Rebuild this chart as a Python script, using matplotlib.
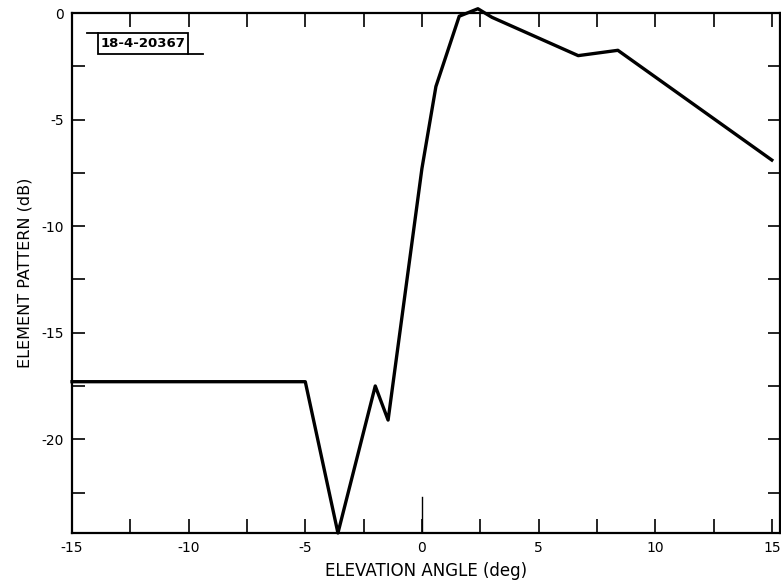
import matplotlib.pyplot as plt
from matplotlib.patches import Rectangle
import numpy as np

# elevation angle (deg) and element pattern (dB)
angle = [-15, -5.0, -3.6, -2.0, -1.45, 0.0, 0.6, 1.6, 2.4, 3.0, 6.7, 8.4, 15.0]
pattern = [-17.3, -17.3, -24.4, -17.5, -19.1, -7.3, -3.45, -0.15, 0.2, -0.2, -2.0, -1.75, -6.9]

xticks = [-15, -10, -5, 0, 5, 10, 15]
yticks = [0, -5, -10, -15, -20]

fig = plt.figure(figsize=(7.81, 5.81), dpi=100)
ax = fig.add_axes([0.0922, 0.0826, 0.9065, 0.895])

ax.plot(angle, pattern, color='black', linewidth=2.4, clip_on=False)

ax.set_xlim(-15, 15.35)
ax.set_ylim(-24.4, 0)
ax.set_xticks(xticks)
ax.set_xticklabels([str(t) for t in xticks])
ax.set_yticks(yticks)
ax.set_yticklabels([str(t) for t in yticks])
ax.set_xticks(np.arange(-12.5, 15, 5), minor=True)
ax.set_yticks(np.arange(-2.5, -24, -5), minor=True)
ax.tick_params(which='both', direction='in', width=1.2,
               top=True, right=True, labelsize=10, pad=6)
ax.tick_params(axis='x', which='both', length=10)
ax.tick_params(axis='y', which='both', length=9)

# longer mark at zero on the bottom axis
ax.plot([0, 0], [-24.4, -22.7], color='black', lw=1.0)

for s in ax.spines.values():
    s.set_linewidth(1.6)

ax.set_xlabel('ELEVATION ANGLE (deg)', fontsize=12, labelpad=5)
ax.set_ylabel('ELEMENT PATTERN (dB)', fontsize=11.5, labelpad=6)

# figure id box
ax.add_patch(Rectangle((0.0367, 0.921), 0.127, 0.0405, transform=ax.transAxes,
                       fill=False, ec='black', lw=1.3))
ax.text(0.1, 0.9415, '18-4-20367', transform=ax.transAxes, fontsize=9.5,
        fontweight='bold', va='center', ha='center')
ax.plot([0.021, 0.0367], [0.9615, 0.9615], transform=ax.transAxes, color='black', lw=1.3)
ax.plot([0.1637, 0.185], [0.921, 0.921], transform=ax.transAxes, color='black', lw=1.3)

plt.savefig('out.png')
